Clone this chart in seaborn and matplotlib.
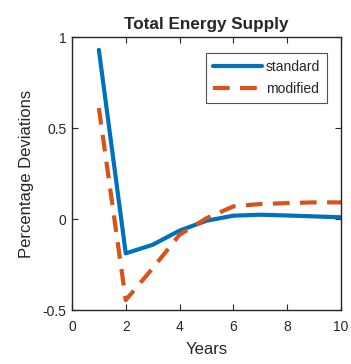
import matplotlib
matplotlib.use("Agg")
import matplotlib.pyplot as plt
import seaborn as sns
import pandas as pd

years = [1, 2, 3, 4, 5, 6, 7, 8, 9, 10]
standard = [0.93, -0.188, -0.141, -0.063, -0.009, 0.019, 0.024, 0.020, 0.015, 0.010]
modified = [0.61, -0.445, -0.27, -0.086, 0.005, 0.07, 0.083, 0.088, 0.092, 0.092]
xticks = [0, 2, 4, 6, 8, 10]
yticks = [-0.5, 0, 0.5, 1]
yticklabels = ["-0.5", "0", "0.5", "1"]

sns.set_style("ticks")
plt.rcParams["font.family"] = ["Liberation Sans", "DejaVu Sans"]

df = pd.DataFrame({"Years": years * 2,
                   "value": standard + modified,
                   "series": ["standard"] * len(years) + ["modified"] * len(years)})

fig = plt.figure(figsize=(3.51, 3.64), dpi=100)
ax = fig.add_axes([0.205, 0.148, 0.7665, 0.75])
sns.lineplot(data=df, x="Years", y="value", hue="series", style="series",
             palette={"standard": "#0072BD", "modified": "#D95319"},
             dashes={"standard": "", "modified": (4, 2.5)},
             linewidth=3, ax=ax)

ax.set_xlim(0, 10)
ax.set_ylim(-0.5, 1)
ax.set_xticks(xticks)
ax.set_xticklabels([str(t) for t in xticks])
ax.set_yticks(yticks)
ax.set_yticklabels(yticklabels)
ax.tick_params(direction="in", top=True, right=True, length=4, width=0.8,
               labelsize=10, colors="#262626")
ax.tick_params(axis="x", pad=7)
ax.tick_params(axis="y", pad=4)
for s in ax.spines.values():
    s.set_visible(True)
    s.set_color("#262626")
    s.set_linewidth(1.0)
ax.set_xlabel("Years", fontsize=12, color="#262626", labelpad=6)
ax.set_ylabel("Percentage Deviations", fontsize=12, color="#262626", labelpad=6)
ax.set_title("Total Energy Supply", fontsize=12.3, fontweight="bold", pad=6)

leg = ax.legend(loc="upper right", fontsize=10, frameon=True, fancybox=False,
                edgecolor="#262626", handlelength=3.5, handletextpad=0.3,
                borderpad=0.5, labelspacing=0.6, borderaxespad=0,
                bbox_to_anchor=(0.948, 0.942))
leg.get_frame().set_linewidth(0.8)
for line in leg.get_lines():
    line.set_linewidth(3)

fig.savefig("out.png", dpi=100)
